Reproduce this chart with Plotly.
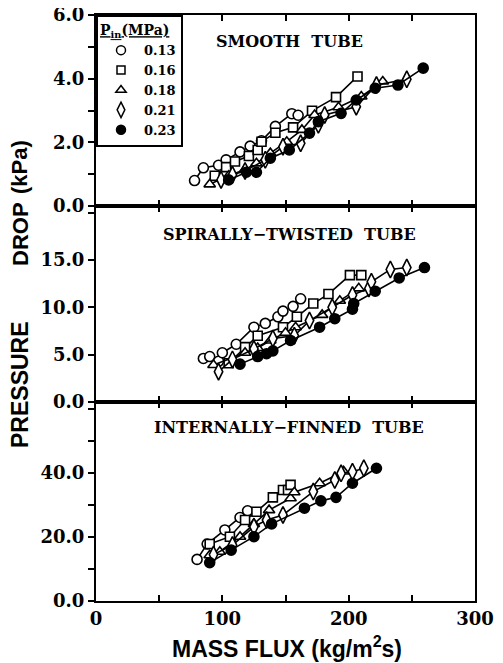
import plotly.graph_objects as go

# ---------------- data ----------------
pressures = ["0.13", "0.16", "0.18", "0.21", "0.23"]

# Smooth tube
smooth_x = {
    "0.13": [78, 85, 97, 103, 114, 122, 131, 142, 155, 160],
    "0.16": [94, 103, 110, 121, 128, 131, 142, 156, 171, 190, 207],
    "0.18": [90, 105, 118, 127, 138, 151, 163, 173, 192, 210, 227],
    "0.21": [99, 108, 118, 134, 148, 162, 176, 181, 206, 222, 246],
    "0.23": [105, 119, 127, 138, 153, 169, 176, 194, 206, 221, 239, 259],
}
smooth_y = {
    "0.13": [0.80, 1.20, 1.28, 1.45, 1.70, 1.88, 2.05, 2.50, 2.90, 2.85],
    "0.16": [0.95, 1.22, 1.40, 1.57, 1.76, 2.02, 2.30, 2.47, 2.99, 3.42, 4.07],
    "0.18": [0.68, 0.95, 1.15, 1.34, 1.66, 2.02, 2.39, 2.86, 3.10, 3.44, 3.91],
    "0.21": [0.82, 0.98, 1.10, 1.45, 1.86, 1.97, 2.55, 2.86, 3.12, 3.80, 3.98],
    "0.23": [0.82, 1.06, 1.06, 1.50, 1.76, 2.29, 2.65, 2.91, 3.33, 3.70, 3.80, 4.33],
}

# Spirally-twisted tube
twisted_x = {
    "0.13": [85, 90, 97, 100, 111, 125, 134, 144, 148, 156, 162],
    "0.16": [105, 118, 128, 148, 159, 172, 184, 201, 210],
    "0.18": [93, 118, 128, 138, 150, 158, 179, 193, 208],
    "0.21": [97, 108, 125, 140, 157, 169, 187, 203, 216, 218, 233, 246],
    "0.23": [114, 128, 135, 140, 154, 177, 189, 203, 204, 221, 240, 260],
}
twisted_y = {
    "0.13": [4.6, 4.8, 4.3, 5.2, 6.1, 7.9, 8.3, 9.0, 9.6, 10.1, 10.9],
    "0.16": [4.1, 5.8, 7.0, 7.9, 9.0, 10.4, 11.4, 13.4, 13.4],
    "0.18": [3.9, 5.2, 5.7, 6.5, 7.3, 7.9, 9.2, 10.7, 12.0],
    "0.21": [3.2, 4.5, 5.6, 6.7, 7.0, 8.6, 10.0, 11.3, 12.0, 12.7, 14.0, 14.2],
    "0.23": [4.0, 4.8, 5.1, 5.4, 6.5, 7.9, 8.8, 9.8, 10.4, 11.7, 13.1, 14.2],
}

# Internally-finned tube
finned_x = {
    "0.13": [80, 88, 102, 114, 120],
    "0.16": [90, 106, 118, 127, 140, 148, 152, 154],
    "0.18": [90, 98, 114, 125, 137, 154, 157, 177, 196],
    "0.21": [93, 108, 125, 135, 148, 172, 189, 194, 203, 212],
    "0.23": [90, 107, 125, 139, 165, 178, 190, 203, 222],
}
finned_y = {
    "0.13": [13.0, 17.8, 22.2, 26.1, 28.2],
    "0.16": [17.8, 20.1, 25.3, 27.9, 32.4, 34.7, 34.7, 36.3],
    "0.18": [14.3, 15.4, 20.1, 24.1, 28.4, 32.1, 34.0, 36.8, 40.5],
    "0.21": [14.5, 17.5, 23.2, 25.3, 26.9, 34.2, 37.8, 39.9, 40.4, 41.5],
    "0.23": [12.0, 15.9, 20.1, 24.1, 29.0, 31.3, 32.4, 36.8, 41.5],
}

panel_titles = ["SMOOTH  TUBE", "SPIRALLY\u2212TWISTED  TUBE", "INTERNALLY\u2212FINNED  TUBE"]

# y tick positions / labels per panel (bottom, middle, top)
bot_ticks = [0, 10, 20, 30, 40, 50, 60]
bot_labels = ["0.0", "", "20.0", "", "40.0", "", ""]
mid_ticks = [0, 5, 10, 15, 20]
mid_labels = ["0.0", "5.0", "10.0", "15.0", ""]
top_ticks = [0, 1, 2, 3, 4, 5, 6]
top_labels = ["0.0", "", "2.0", "", "4.0", "", "6.0"]
x_ticks = [0, 50, 100, 150, 200, 250, 300]
x_labels = ["0", "", "100", "", "200", "", "300"]

# ---------------- styling ----------------
symbols = {"0.13": "circle", "0.16": "square", "0.18": "triangle-up",
           "0.21": "diamond-tall", "0.23": "circle"}
fills = {"0.13": "white", "0.16": "white", "0.18": "white",
         "0.21": "white", "0.23": "black"}
sizes = {"0.13": 10, "0.16": 9, "0.18": 10, "0.21": 12, "0.23": 10}

SERIF = "DejaVu Serif"
SANS = "Liberation Sans"

fig = go.Figure()

panels = [(smooth_x, smooth_y, "x3", "y3"),
          (twisted_x, twisted_y, "x2", "y2"),
          (finned_x, finned_y, "x", "y")]

for px, py, xa, ya in panels:
    for p in pressures:
        fig.add_trace(go.Scatter(
            x=px[p], y=py[p], mode="lines+markers", xaxis=xa, yaxis=ya,
            line=dict(color="black", width=1.6),
            marker=dict(symbol=symbols[p], size=sizes[p], color=fills[p],
                        line=dict(color="black", width=1.6)),
            showlegend=False, hoverinfo="x+y"))

# legend entries (markers only)
for p in pressures:
    fig.add_trace(go.Scatter(
        x=[None], y=[None], mode="markers", xaxis="x3", yaxis="y3", name=p,
        marker=dict(symbol=symbols[p], size=sizes[p] - 1, color=fills[p],
                    line=dict(color="black", width=1.5)),
        showlegend=True))

H_TOT = 586.0
d_bot = (0.0, 199 / H_TOT)
d_mid = (199 / H_TOT, 395 / H_TOT)
d_top = (395 / H_TOT, 1.0)
r_bot = [0, 62.2]
r_mid = [0, 20.7]
r_top = [0, 6]

tickfont = dict(family=SERIF, size=18, color="black", weight="bold")

def xaxis_cfg(anchor, show_labels):
    return dict(
        range=[0, 300], anchor=anchor, domain=[0, 1],
        tickvals=x_ticks, ticktext=x_labels,
        showticklabels=show_labels, ticks="inside", ticklen=6, tickwidth=1.5,
        tickcolor="black", showline=True, linewidth=2, linecolor="black",
        mirror="ticks", showgrid=False, zeroline=False, tickfont=tickfont,
        automargin=False, ticklabeloverflow="allow")

def yaxis_cfg(domain, rng, vals, texts):
    return dict(
        domain=list(domain), range=rng, tickvals=vals, ticktext=texts,
        ticks="outside", ticklen=6, tickwidth=1.5, tickcolor="black",
        showline=True, linewidth=2, linecolor="black", mirror=True,
        showgrid=False, zeroline=False, tickfont=tickfont, automargin=False,
        ticklabeloverflow="allow")

def yright_cfg(over, rng, vals):
    return dict(
        overlaying=over, side="right", anchor="x", range=rng, tickvals=vals,
        ticks="inside", ticklen=6, tickwidth=1.5, tickcolor="black",
        showticklabels=False, showline=False, showgrid=False, zeroline=False,
        automargin=False)

# the page body adds an 8px offset; the figure is sized/margined to compensate
fig.update_layout(
    width=495, height=655,
    margin=dict(l=88, r=28, t=7, b=62, pad=0, autoexpand=False),
    paper_bgcolor="white", plot_bgcolor="white",
    xaxis=xaxis_cfg("y", True),
    xaxis2=dict(xaxis_cfg("y2", False), matches="x"),
    xaxis3=dict(xaxis_cfg("y3", False), matches="x"),
    yaxis=yaxis_cfg(d_bot, r_bot, bot_ticks, bot_labels),
    yaxis2=yaxis_cfg(d_mid, r_mid, mid_ticks, mid_labels),
    yaxis3=yaxis_cfg(d_top, r_top, top_ticks, top_labels),
    yaxis4=dict(yright_cfg("y", r_bot, bot_ticks), anchor="x"),
    yaxis5=dict(yright_cfg("y2", r_mid, mid_ticks), anchor="x2"),
    yaxis6=dict(yright_cfg("y3", r_top, top_ticks), anchor="x3"),
    legend=dict(
        x=0, y=1, xanchor="left", yanchor="top", xref="paper", yref="paper",
        bgcolor="white", bordercolor="black", borderwidth=2,
        font=dict(family=SERIF, size=13, color="black", weight="bold"),
        title=dict(text="<u>P<sub>in</sub>(MPa)</u>",
                   font=dict(family=SERIF, size=14, color="black", weight="bold")),
        itemwidth=36, tracegroupgap=0),
    showlegend=True,
)

# helpers: convert target page pixel positions to plot-area paper coordinates
def py2paper(ypix):
    return (601 - ypix) / H_TOT

def px2paper(xpix):
    return (xpix - 96) / 379.0

annos = []
for title, ypix in zip(panel_titles, [41.5, 234.5, 427.5]):
    annos.append(dict(text=title, x=px2paper(289), y=py2paper(ypix),
                      xref="paper", yref="paper", showarrow=False,
                      xanchor="center", yanchor="middle",
                      font=dict(family=SERIF, size=16, color="black", weight="bold")))

# y-axis title pieces
for txt, ycen, fs in [("PRESSURE", 385, 23), ("DROP", 234, 22), ("(kPa)", 167, 22)]:
    annos.append(dict(text=txt, x=px2paper(20), y=py2paper(ycen),
                      xref="paper", yref="paper", showarrow=False, textangle=-90,
                      xanchor="center", yanchor="middle",
                      font=dict(family=SANS, size=fs, color="black", weight="bold")))

annos.append(dict(text="MASS FLUX (kg/m<sup>2</sup>s)", x=px2paper(287),
                  y=py2paper(647), xref="paper", yref="paper", showarrow=False,
                  xanchor="center", yanchor="middle",
                  font=dict(family=SANS, size=23, color="black", weight="bold")))

fig.update_layout(annotations=annos)

fig.write_html("out.html")
